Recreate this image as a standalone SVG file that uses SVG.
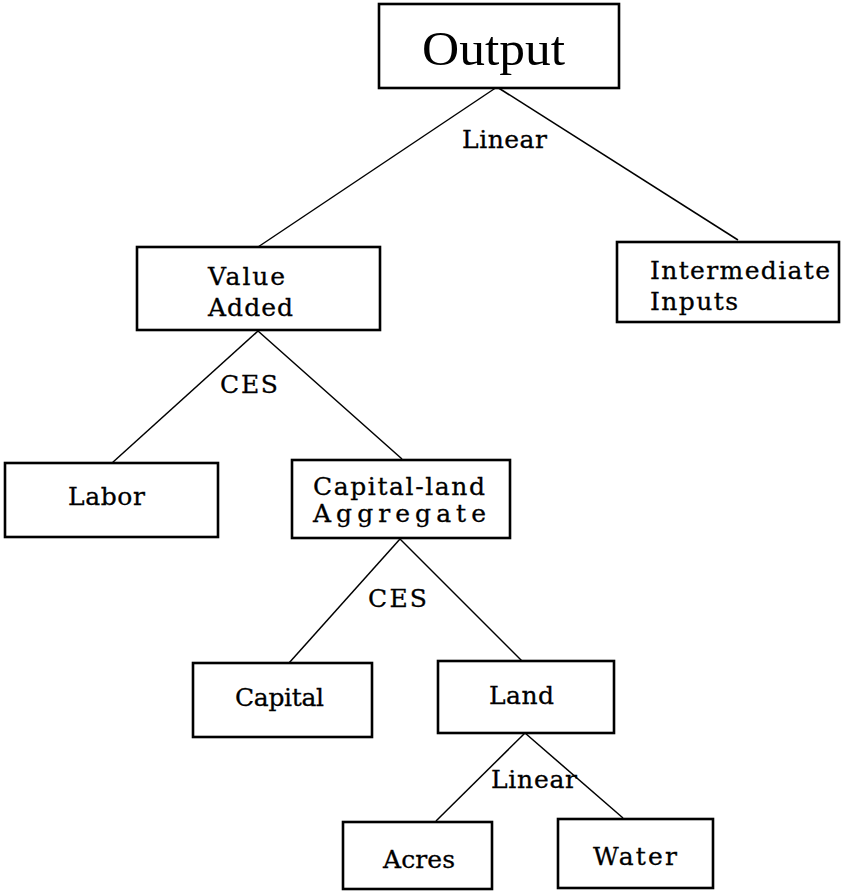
<svg xmlns="http://www.w3.org/2000/svg" width="865" height="892" viewBox="0 0 865 892">
<style>
.box{fill:#fff;stroke:#000;stroke-width:2.6}
.lbl{font-family:"DejaVu Serif","Liberation Serif",serif;font-size:25px;fill:#000;stroke:#000;stroke-width:0.3}
.big{font-family:"Liberation Serif","DejaVu Serif",serif;font-size:48px;fill:#000}
.edge{stroke:#000;stroke-width:1.5;fill:none}
</style>
<rect width="865" height="892" fill="#fff"/>
<g id="connectors">
<line class="edge" x1="497" y1="87" x2="258" y2="247"/>
<line class="edge" x1="497" y1="87" x2="738" y2="240"/>
<line class="edge" x1="258" y1="331" x2="112" y2="463"/>
<line class="edge" x1="258" y1="331" x2="402" y2="459"/>
<line class="edge" x1="400" y1="539" x2="289" y2="663"/>
<line class="edge" x1="400" y1="539" x2="522" y2="661"/>
<line class="edge" x1="525" y1="733" x2="436" y2="821"/>
<line class="edge" x1="525" y1="733" x2="623" y2="818"/>
<text class="lbl" x="462" y="148" textLength="85" lengthAdjust="spacing">Linear</text>
<text class="lbl" x="220" y="393" textLength="58" lengthAdjust="spacing">CES</text>
<text class="lbl" x="368" y="607" textLength="59" lengthAdjust="spacing">CES</text>
<text class="lbl" x="491" y="788" textLength="86" lengthAdjust="spacing">Linear</text>
</g>
<g id="output">
<rect class="box" x="379" y="4" width="240" height="84"/>
<text class="big" x="422" y="65" textLength="143" lengthAdjust="spacingAndGlyphs">Output</text>
</g>
<g id="value-added">
<rect class="box" x="137" y="247" width="243" height="83"/>
<text class="lbl" x="208" y="285" textLength="77" lengthAdjust="spacing">Value</text>
<text class="lbl" x="208" y="316" textLength="85" lengthAdjust="spacing">Added</text>
</g>
<g id="intermediate-inputs">
<rect class="box" x="617" y="242" width="222" height="80"/>
<text class="lbl" x="650" y="279" textLength="180" lengthAdjust="spacing">Intermediate</text>
<text class="lbl" x="650" y="310" textLength="88" lengthAdjust="spacing">Inputs</text>
</g>
<g id="labor">
<rect class="box" x="5" y="463" width="213" height="74"/>
<text class="lbl" x="68" y="505" textLength="77" lengthAdjust="spacing">Labor</text>
</g>
<g id="capital-land">
<rect class="box" x="292" y="460" width="218" height="78"/>
<text class="lbl" x="313" y="495" textLength="172" lengthAdjust="spacing">Capital-land</text>
<text class="lbl" x="313" y="522" textLength="173" lengthAdjust="spacing">Aggregate</text>
</g>
<g id="capital">
<rect class="box" x="193" y="663" width="179" height="74"/>
<text class="lbl" x="235" y="706" textLength="89" lengthAdjust="spacing">Capital</text>
</g>
<g id="land">
<rect class="box" x="438" y="661" width="176" height="72"/>
<text class="lbl" x="489" y="704" textLength="65" lengthAdjust="spacing">Land</text>
</g>
<g id="acres">
<rect class="box" x="343" y="822" width="149" height="67"/>
<text class="lbl" x="383" y="868" textLength="72" lengthAdjust="spacing">Acres</text>
</g>
<g id="water">
<rect class="box" x="558" y="819" width="155" height="69"/>
<text class="lbl" x="593" y="865" textLength="84" lengthAdjust="spacing">Water</text>
</g>
</svg>
